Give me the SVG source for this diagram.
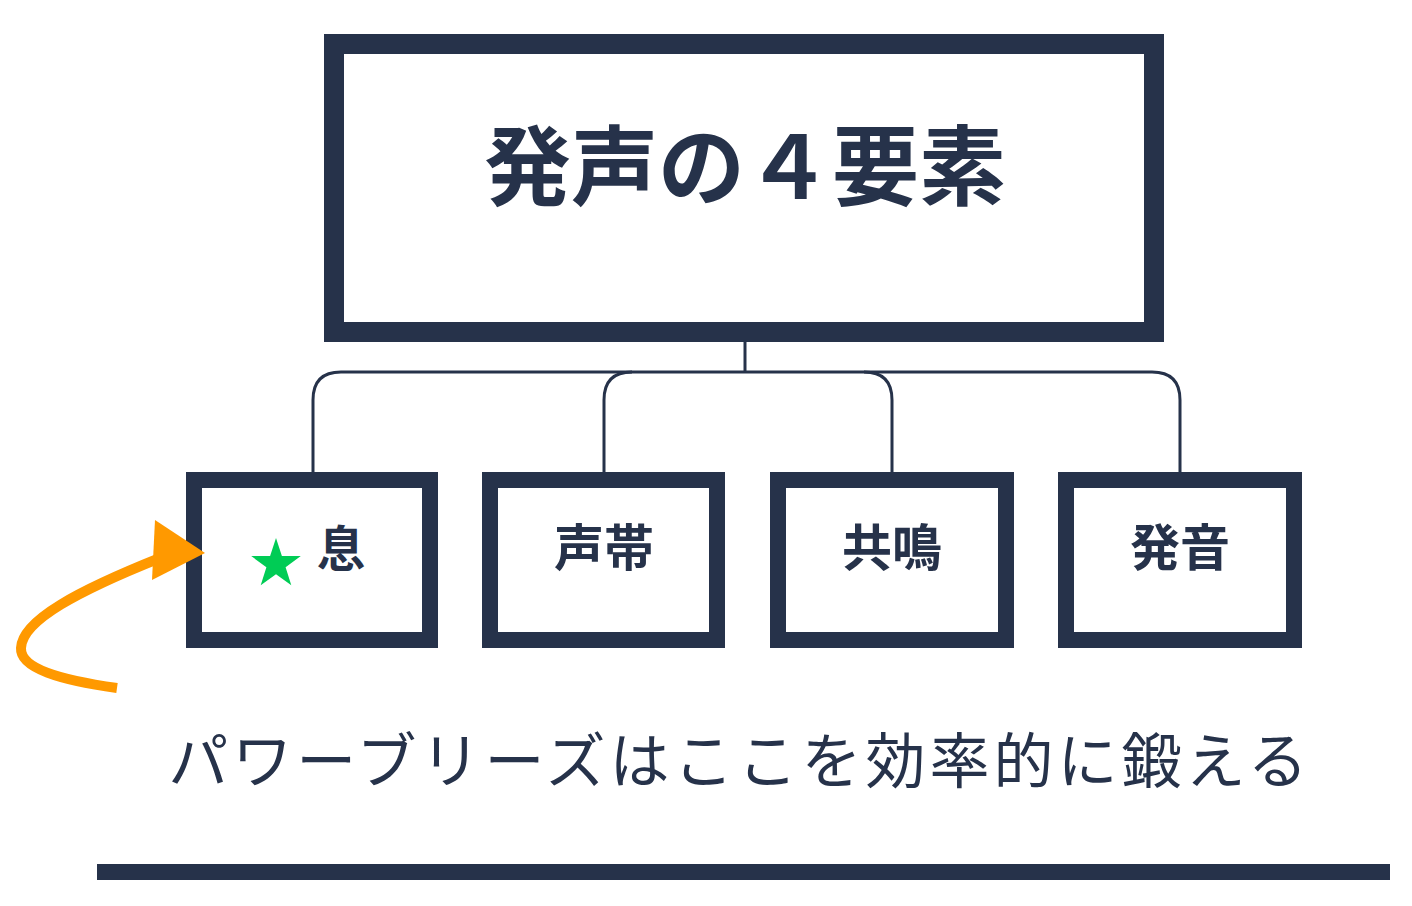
<svg xmlns="http://www.w3.org/2000/svg" width="1412" height="906" viewBox="0 0 1412 906">
<style>
.box{fill:#ffffff;stroke:#26324a}
.lbl{font-family:"Noto Sans CJK JP",sans-serif;font-weight:700;fill:#26324a;text-anchor:middle}
.conn{fill:none;stroke:#26324a;stroke-width:3}
</style>
<rect width="1412" height="906" fill="#ffffff"/>
<g id="root">
<rect class="box" x="334" y="44" width="820" height="288" stroke-width="20"/>
<text class="lbl" x="745" y="199" font-size="87">発声の４要素</text>
</g>
<g id="connectors">
<path class="conn" d="M745,342 V372"/>
<path class="conn" d="M313,472 V400 Q313,372 341,372 H1152 Q1180,372 1180,400 V472"/>
<path class="conn" d="M604,472 V400 Q604,372 632,372"/>
<path class="conn" d="M892,472 V400 Q892,372 864,372"/>
</g>
<g id="node-breath">
<rect class="box" x="194" y="480" width="236" height="160" stroke-width="16"/>
<polygon fill="#00cc55" points="276,538 281.9,555.9 300.8,556.1 285.6,567.2 291.3,585.2 276,574.3 260.7,585.2 266.4,567.2 251.2,556.1 270.1,555.9"/>
<text class="lbl" x="341" y="566" font-size="48">息</text>
</g>
<g id="node-vocalcords">
<rect class="box" x="490" y="480" width="227" height="160" stroke-width="16"/>
<text class="lbl" x="604" y="566" font-size="50">声帯</text>
</g>
<g id="node-resonance">
<rect class="box" x="778" y="480" width="228" height="160" stroke-width="16"/>
<text class="lbl" x="892" y="566" font-size="50">共鳴</text>
</g>
<g id="node-articulation">
<rect class="box" x="1066" y="480" width="228" height="160" stroke-width="16"/>
<text class="lbl" x="1180" y="566" font-size="50">発音</text>
</g>
<g id="arrow">
<path d="M117,688 C60,680 20,668 21,648 C22,620 80,590 160,558" fill="none" stroke="#ff9900" stroke-width="10"/>
<polygon fill="#ff9900" points="205,553 155,520 152,580"/>
</g>
<text x="740" y="783" font-family="Noto Sans CJK JP,sans-serif" font-size="60" letter-spacing="4" fill="#26324a" text-anchor="middle">パワーブリーズはここを効率的に鍛える</text>
<rect x="97" y="864" width="1293" height="16" fill="#26324a"/>
</svg>
